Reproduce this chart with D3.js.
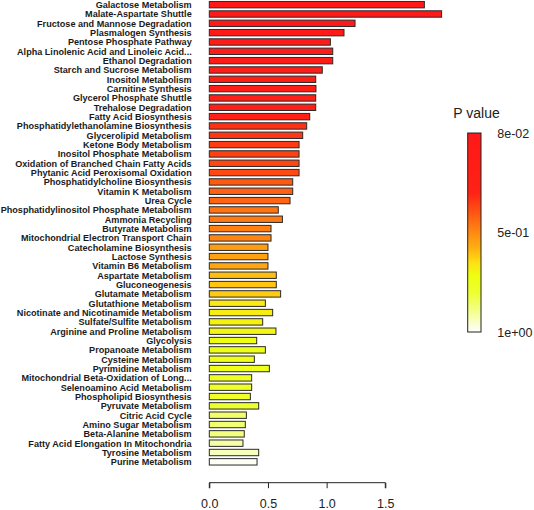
<!DOCTYPE html>
<html>
<head>
<meta charset="utf-8">
<script src="https://cdn.jsdelivr.net/npm/d3@7"></script>
<style>
body{margin:0;background:#fff;}
svg{display:block;font-family:"Liberation Sans",Arial,sans-serif;}
</style>
</head>
<body>
<svg id="chart" width="534" height="510"></svg>
<script>
const categories = [
"Galactose Metabolism","Malate-Aspartate Shuttle","Fructose and Mannose Degradation","Plasmalogen Synthesis",
"Pentose Phosphate Pathway","Alpha Linolenic Acid and Linoleic Acid...","Ethanol Degradation","Starch and Sucrose Metabolism",
"Inositol Metabolism","Carnitine Synthesis","Glycerol Phosphate Shuttle","Trehalose Degradation","Fatty Acid Biosynthesis",
"Phosphatidylethanolamine Biosynthesis","Glycerolipid Metabolism","Ketone Body Metabolism","Inositol Phosphate Metabolism",
"Oxidation of Branched Chain Fatty Acids","Phytanic Acid Peroxisomal Oxidation","Phosphatidylcholine Biosynthesis",
"Vitamin K Metabolism","Urea Cycle","Phosphatidylinositol Phosphate Metabolism","Ammonia Recycling","Butyrate Metabolism",
"Mitochondrial Electron Transport Chain","Catecholamine Biosynthesis","Lactose Synthesis","Vitamin B6 Metabolism",
"Aspartate Metabolism","Gluconeogenesis","Glutamate Metabolism","Glutathione Metabolism","Nicotinate and Nicotinamide Metabolism",
"Sulfate/Sulfite Metabolism","Arginine and Proline Metabolism","Glycolysis","Propanoate Metabolism","Cysteine Metabolism",
"Pyrimidine Metabolism","Mitochondrial Beta-Oxidation of Long...","Selenoamino Acid Metabolism","Phospholipid Biosynthesis",
"Pyruvate Metabolism","Citric Acid Cycle","Amino Sugar Metabolism","Beta-Alanine Metabolism",
"Fatty Acid Elongation In Mitochondria","Tyrosine Metabolism","Purine Metabolism"];

const values = [
1.833,1.98,1.242,1.148,1.032,1.052,1.052,0.963,0.907,0.909,0.907,0.907,0.856,
0.830,0.796,0.765,0.765,0.765,0.765,0.711,0.711,0.688,0.588,0.623,0.526,
0.526,0.500,0.500,0.500,0.571,0.571,0.608,0.478,0.540,0.455,0.568,0.404,0.478,
0.384,0.512,0.361,0.361,0.350,0.421,0.316,0.307,0.298,0.287,0.421,0.407];

const pValues = [
0.080,0.097,0.114,0.130,0.147,0.164,0.181,0.198,0.214,0.231,0.248,0.265,0.290,
0.357,0.366,0.374,0.382,0.391,0.399,0.424,0.433,0.441,0.466,0.475,0.483,0.492,
0.54,0.55,0.56,0.60,0.61,0.62,0.67,0.68,0.69,0.70,0.72,0.73,0.74,0.75,
0.77,0.78,0.79,0.80,0.86,0.87,0.88,0.92,0.94,0.99];

const xTicks = [0, 0.5, 1.0, 1.5];
const legendTickValues = [0.08, 0.5, 1.0];
const legendTickLabels = ["8e-02", "5e-01", "1e+00"];
const legendTitle = "P value";

const gradStops = [0, 0.3, 0.4, 0.5, 0.58, 0.65, 0.72, 0.8, 0.9, 1.0];
const gradColors = ["#ff1818","#ff2215","#ff5512","#ff8a12","#ffb012","#ffe012","#eeff12","#eeff30","#f4ff90","#ffffff"];

const svg = d3.select("#chart");

const x = d3.scaleLinear().domain([0, 1.5]).range([209.3, 385.3]);
const y = d3.scaleBand().domain(categories).range([0, 466.5]).paddingInner(0.3).paddingOuter(0.15);

const pFrac = d3.scaleLinear().domain([0.08, 0.5, 1.0]).range([0, 0.5, 1]);
const colorOfFrac = d3.scaleLinear().domain(gradStops).range(gradColors);
const color = p => colorOfFrac(pFrac(p));

const rows = categories.map((c, i) => ({c, v: values[i], p: pValues[i]}));

svg.append("g").selectAll("rect").data(rows).join("rect")
  .attr("x", x(0))
  .attr("y", d => y(d.c) + y.bandwidth()/2 - 3.2)
  .attr("width", d => x(d.v) - x(0))
  .attr("height", 6.4)
  .attr("fill", d => color(d.p))
  .attr("stroke", "#2a2a2a")
  .attr("stroke-width", 1);

svg.append("g").selectAll("text").data(rows).join("text")
  .attr("x", 191.7)
  .attr("y", d => y(d.c) + y.bandwidth()/2 + 3.4)
  .attr("text-anchor", "end")
  .attr("font-size", 9.1)
  .attr("font-weight", "bold")
  .attr("fill", "#1a1a1a")
  .text(d => d.c);

const ax = svg.append("g").attr("transform", "translate(0,482.7)")
  .call(d3.axisBottom(x).tickValues(xTicks).tickFormat(d3.format(".1f")).tickSize(5.5).tickPadding(11));
ax.select(".domain").attr("stroke", "#222").attr("d", `M${x(0)},5.5V0H${x(1.5)}V5.5`);
ax.selectAll(".tick line").attr("stroke", "#222");
ax.selectAll(".tick text").attr("font-size", 12.5).attr("fill", "#222").attr("font-family", "Liberation Sans, Arial, sans-serif");

// legend
const lg = svg.append("defs").append("linearGradient").attr("id", "pgrad")
  .attr("x1", 0).attr("y1", 0).attr("x2", 0).attr("y2", 1);
gradStops.forEach((s, i) => lg.append("stop").attr("offset", s).attr("stop-color", gradColors[i]));

const ly = d3.scaleLinear().domain([0.08, 0.5, 1.0]).range([133, 232.5, 332]);
svg.append("rect").attr("x", 467.7).attr("y", 133).attr("width", 13.3).attr("height", 199)
  .attr("fill", "url(#pgrad)").attr("stroke", "#222").attr("stroke-width", 1);
svg.append("g").selectAll("text").data(legendTickValues).join("text")
  .attr("x", 497.3).attr("y", d => ly(d) + 4.5)
  .attr("font-size", 12.5).attr("fill", "#222")
  .text((d, i) => legendTickLabels[i]);
svg.append("text").attr("x", 453.3).attr("y", 117.5).attr("font-size", 14).attr("fill", "#222").text(legendTitle);
</script>
</body>
</html>
